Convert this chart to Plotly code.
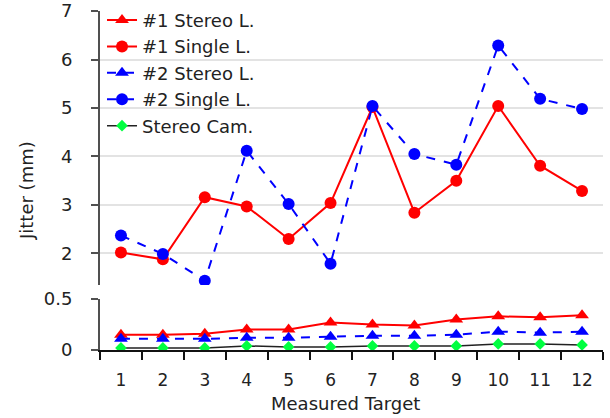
import plotly.graph_objects as go

targets = list(range(1, 12 + 1))
s1_stereo = [0.15, 0.15, 0.16, 0.20, 0.20, 0.27, 0.25, 0.24, 0.30, 0.33, 0.32, 0.34]
s1_single = [2.02, 1.88, 3.16, 2.97, 2.30, 3.04, 5.02, 2.84, 3.50, 5.04, 3.81, 3.29]
s2_stereo = [0.11, 0.11, 0.11, 0.12, 0.12, 0.13, 0.14, 0.14, 0.15, 0.18, 0.17, 0.18]
s2_single = [2.37, 1.99, 1.44, 4.12, 3.02, 1.79, 5.04, 4.05, 3.83, 6.29, 5.19, 4.98]
stereo_cam = [0.02, 0.02, 0.02, 0.04, 0.03, 0.03, 0.04, 0.04, 0.04, 0.06, 0.06, 0.05]

top_ticks = [2, 3, 4, 5, 6, 7]
bottom_ticks = [0, 0.5]
bottom_ticktext = ["0", "0.5"]

RED = "#FF0000"
BLUE = "#0000FF"
GREEN = "#00FF40"
FONT = "DejaVu Sans"
AX = "#505050"
TXT = "#222222"

fig = go.Figure()
fig.add_trace(go.Scatter(x=targets, y=s1_stereo, name="#1 Stereo L.", mode="lines+markers",
                         line=dict(color=RED, width=2), marker=dict(symbol="triangle-up", size=12, color=RED),
                         xaxis="x", yaxis="y2"))
fig.add_trace(go.Scatter(x=targets, y=s1_single, name="#1 Single L.", mode="lines+markers",
                         line=dict(color=RED, width=2), marker=dict(symbol="circle", size=12, color=RED),
                         xaxis="x2", yaxis="y"))
fig.add_trace(go.Scatter(x=targets, y=s2_stereo, name="#2 Stereo L.", mode="lines+markers",
                         line=dict(color=BLUE, width=2, dash="dash"), marker=dict(symbol="triangle-up", size=12, color=BLUE),
                         xaxis="x", yaxis="y2"))
fig.add_trace(go.Scatter(x=targets, y=s2_single, name="#2 Single L.", mode="lines+markers",
                         line=dict(color=BLUE, width=2, dash="dash"), marker=dict(symbol="circle", size=12, color=BLUE),
                         xaxis="x2", yaxis="y"))
fig.add_trace(go.Scatter(x=targets, y=stereo_cam, name="Stereo Cam.", mode="lines+markers",
                         line=dict(color="#222222", width=1.5), marker=dict(symbol="diamond", size=9, color=GREEN),
                         xaxis="x", yaxis="y2"))

W, H = 610, 418
PL, PR, PT, PB = 100, 603, 11, 350          # plot area in page pixels
L, T, R, B = PL, PT, W - PR, H - PB
PW = PR - PL
PH = PB - PT

fig.update_layout(
    width=W, height=H,
    margin=dict(l=L, r=R, t=T, b=B, autoexpand=False),
    paper_bgcolor="white", plot_bgcolor="white",
    font=dict(family=FONT, size=18, color=TXT),
    showlegend=True,
    legend=dict(x=0.004, y=1.027, xanchor="left", yanchor="top", bgcolor="rgba(0,0,0,0)",
                font=dict(family=FONT, size=18, color=TXT), itemwidth=30, tracegroupgap=0),
    xaxis=dict(domain=[0, 1], anchor="y2", range=[0.5, 12.5], tickvals=targets,
               ticktext=[str(t) for t in targets], ticks="", showgrid=False, zeroline=False,
               showline=True, linecolor="#111111", linewidth=2, ticklabelstandoff=14,
               minor=dict(ticks="outside", tick0=0.5, dtick=1, ticklen=8, tickwidth=2, tickcolor="#111111", showgrid=False),
               tickfont=dict(size=17), automargin=False, ticklabeloverflow="allow"),
    xaxis2=dict(domain=[0, 1], anchor="y", matches="x", visible=False, range=[0.5, 12.5]),
    yaxis=dict(domain=[(PB - 285) / PH, 1], range=[1.35, 7], tickvals=top_ticks,
               showgrid=True, gridcolor="#E3E3E3", gridwidth=1.5, zeroline=False,
               showline=True, linecolor=AX, linewidth=2, ticks="outside", ticklen=7, tickcolor=AX,
               tickwidth=1.5, ticklabelstandoff=15, anchor="x2", tickfont=dict(size=18),
               automargin=False, ticklabeloverflow="allow"),
    yaxis2=dict(domain=[0, (PB - 299) / PH], range=[0, 0.5], tickvals=bottom_ticks,
                ticktext=bottom_ticktext, showgrid=True, gridcolor="#E3E3E3", gridwidth=1.5,
                zeroline=False, showline=True, linecolor=AX, linewidth=2, ticks="outside",
                ticklen=7, tickcolor=AX, tickwidth=1.5, ticklabelstandoff=15, anchor="x",
                tickfont=dict(size=18), automargin=False, ticklabeloverflow="allow"),
    annotations=[
        dict(text="Jitter (mm)", x=(27 - PL) / PW, xref="paper", y=(PB - 191) / PH, yref="paper",
             xanchor="center", yanchor="middle",
             showarrow=False, textangle=-90, font=dict(size=18, family=FONT, color=TXT)),
        dict(text="Measured Target", x=(345 - PL) / PW, xref="paper", y=(PB - 403) / PH, yref="paper",
             xanchor="center", yanchor="middle",
             showarrow=False, font=dict(size=18, family=FONT, color=TXT)),
    ],
)

fig.write_html("out.html", config={"displayModeBar": False},
               post_script="document.body.style.margin='0';document.body.style.overflow='hidden';")
